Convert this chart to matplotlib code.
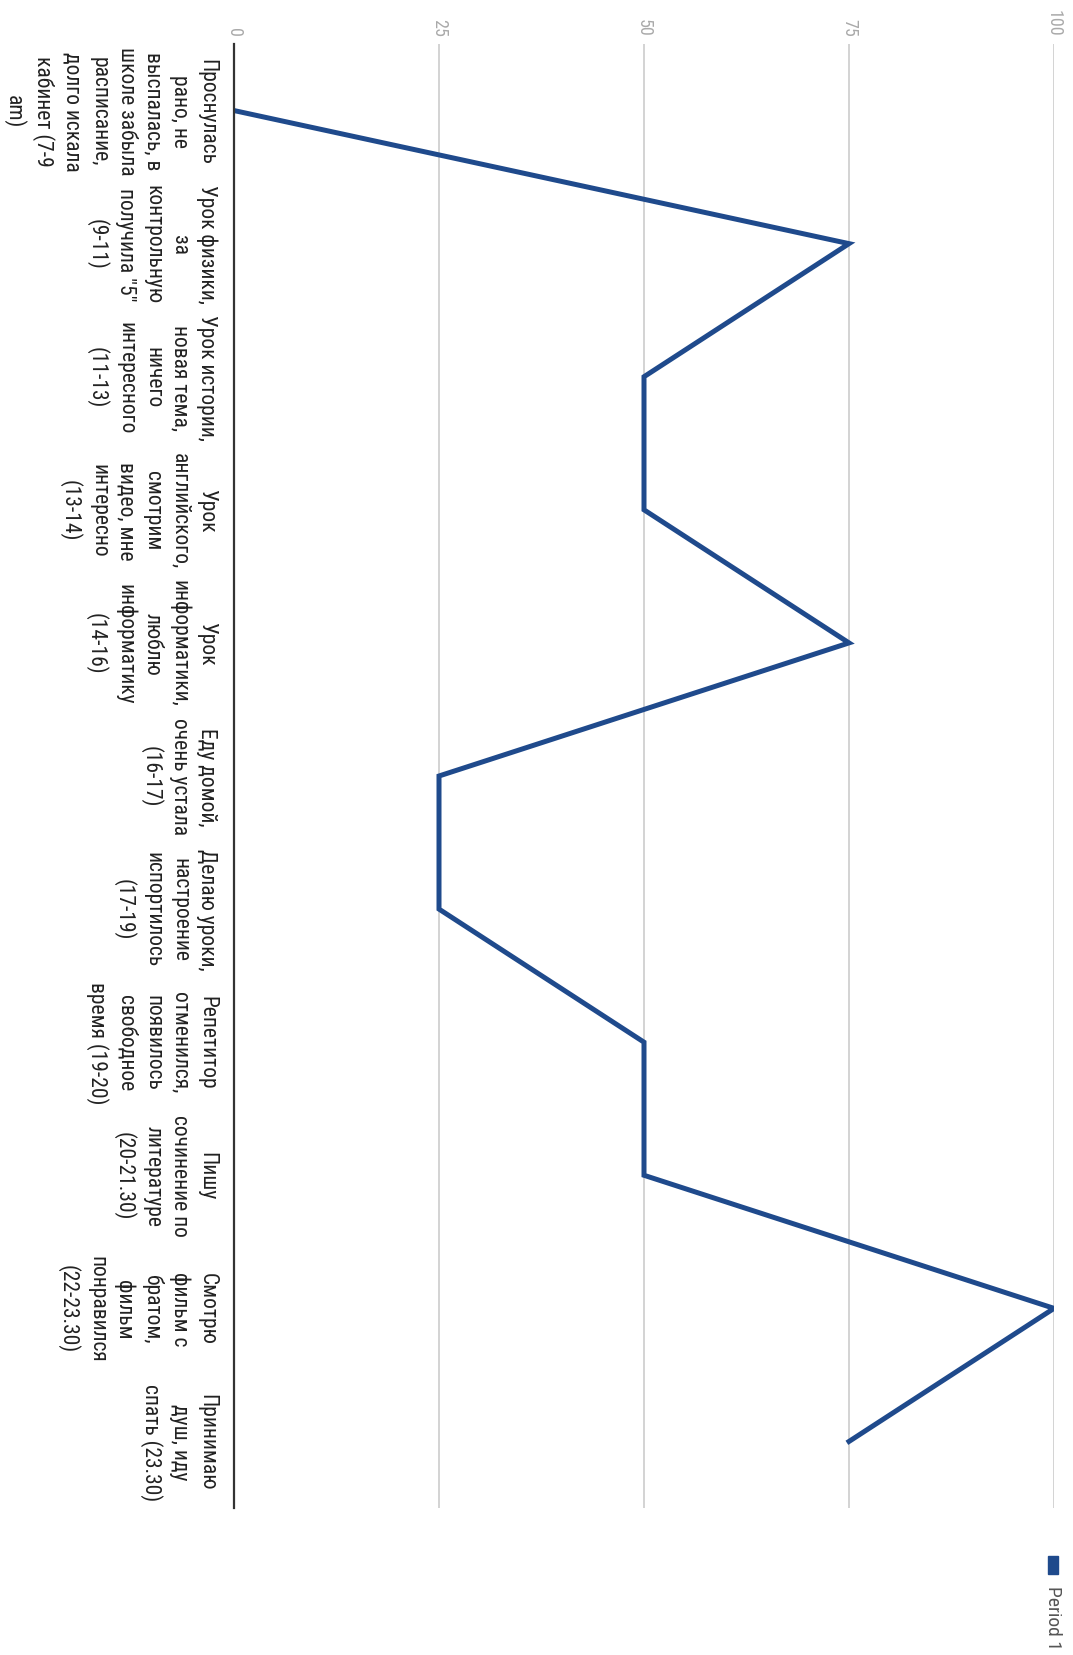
"""Mood over the day, rotated line chart"""

import matplotlib
matplotlib.use("Agg")
import matplotlib.pyplot as plt
from matplotlib import font_manager
from matplotlib.patches import Rectangle

available = {f.name for f in font_manager.fontManager.ttflist}
family = [f for f in ["Roboto Condensed", "Liberation Sans Narrow", "Roboto", "DejaVu Sans"]
          if f in available]
plt.rcParams["font.family"] = family

categories = [
    "Проснулась\nрано, не\nвыспалась, в\nшколе забыла\nрасписание,\nдолго искала\nкабинет (7-9\nam)",
    "Урок физики,\nза\nконтрольную\nполучила \"5\"\n(9-11)",
    "Урок истории,\nновая тема,\nничего\nинтересного\n(11-13)",
    "Урок\nанглийского,\nсмотрим\nвидео, мне\nинтересно\n(13-14)",
    "Урок\nинформатики,\nлюблю\nинформатику\n(14-16)",
    "Еду домой,\nочень устала\n(16-17)",
    "Делаю уроки,\nнастроение\nиспортилось\n(17-19)",
    "Репетитор\nотменился,\nпоявилось\nсвободное\nвремя (19-20)",
    "Пишу\nсочинение по\nлитературе\n(20-21.30)",
    "Смотрю\nфильм с\nбратом,\nфильм\nпонравился\n(22-23.30)",
    "Принимаю\nдуш, иду\nспать (23.30)",
]
period1 = [0, 75, 50, 50, 75, 25, 25, 50, 50, 100, 75]
value_ticks = [0, 25, 50, 75, 100]
series_name = "Period 1"

W, H = 1073, 1656
fig = plt.figure(figsize=(W / 100, H / 100), dpi=100)
ax = fig.add_axes([234 / W, 1 - 1509 / H, (1054 - 234) / W, (1509 - 45) / H])

blue = "#1f4a8c"
pos = list(range(len(categories)))
ax.plot(period1, pos, color=blue, lw=3.6, solid_joinstyle="miter")

ax.set_xlim(0, 100)
ax.set_ylim(len(categories) - 0.5, -0.5)

ax.xaxis.tick_top()
ax.set_xticks(value_ticks)
ax.set_xticklabels([str(v) for v in value_ticks], rotation=-90, color="#aaaaaa",
                   fontsize=13, va="bottom", ha="center")
ax.tick_params(axis="x", length=0, pad=6)
ax.grid(axis="x", color="#cccccc", lw=1.2)
ax.set_axisbelow(True)

ax.set_yticks(pos)
ax.set_yticklabels(categories, rotation=-90, fontsize=15.5, color="#222222",
                   ha="right", va="center", multialignment="center",
                   linespacing=1.37)
ax.tick_params(axis="y", length=0, pad=12)

for side in ["top", "right", "bottom"]:
    ax.spines[side].set_visible(False)
ax.spines["left"].set_color("#333333")
ax.spines["left"].set_linewidth(1.6)

# legend, rotated like the rest
fig.patches.append(Rectangle((1048 / W, 1 - 1575 / H), 10 / W, 18 / H,
                             transform=fig.transFigure, color=blue))
fig.text(1053 / W, 1 - 1586 / H, series_name, rotation=-90, fontsize=14,
         color="#555555", ha="center", va="top")

fig.savefig("out.png", dpi=100, facecolor="white")
